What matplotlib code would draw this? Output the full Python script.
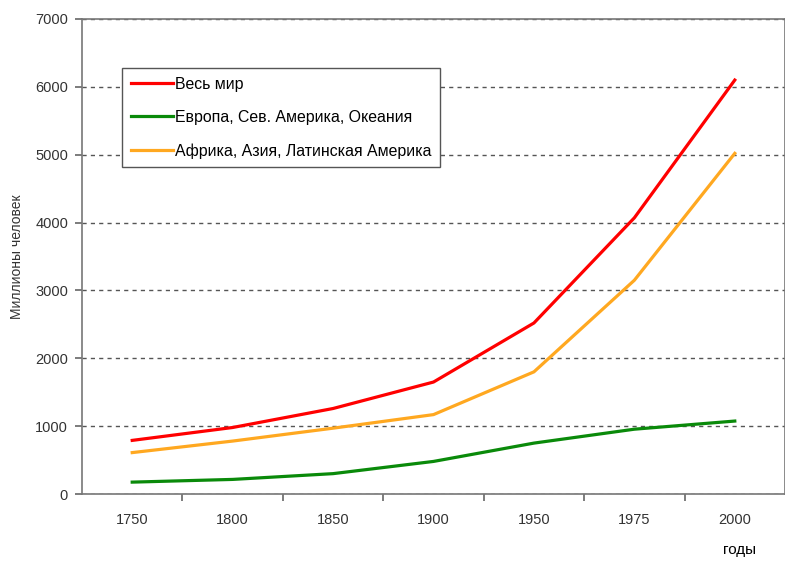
import numpy as np
import matplotlib.pyplot as plt
from matplotlib.ticker import FixedLocator

plt.rcParams['font.family'] = ['Liberation Sans', 'DejaVu Sans']

years = ['1750', '1800', '1850', '1900', '1950', '1975', '2000']
world = [790, 980, 1260, 1650, 2520, 4070, 6100]
developed = [175, 215, 300, 480, 750, 955, 1075]
developing = [610, 780, 970, 1170, 1800, 3150, 5020]
labels = ['Весь мир', 'Европа, Сев. Америка, Океания', 'Африка, Азия, Латинская Америка']

fig = plt.figure(figsize=(7.85, 5.61), dpi=100)
ax = fig.add_axes([82/785, 1 - 494/561, 703/785, 475/561])

x = np.arange(len(years))
ax.plot(x, world, color='#ff0000', lw=2.3, label=labels[0])
ax.plot(x, developed, color='#0a8a0a', lw=2.3, label=labels[1])
ax.plot(x, developing, color='#ffa820', lw=2.3, label=labels[2])

ax.set_xlim(-0.5, len(years) - 0.5)
ax.set_ylim(0, 7000)
ax.set_yticks(range(0, 7001, 1000))
ax.set_xticks(x)
ax.set_xticklabels(years)
ax.xaxis.set_minor_locator(FixedLocator(np.arange(0.5, len(years) - 0.5, 1)))
ax.tick_params(axis='x', which='major', length=0, pad=14, labelsize=10.5, labelcolor='#333333')
ax.tick_params(axis='x', which='minor', length=5, width=1.2, color='#666666', direction='out')
ax.tick_params(axis='y', length=5, width=1.2, color='#666666', labelsize=10.5, labelcolor='#333333', pad=5)

ax.yaxis.grid(True, linestyle=(0, (3, 3)), color='#555555', lw=1)
for s in ax.spines.values():
    s.set_color('#777777')
    s.set_linewidth(1.2)

ax.set_ylabel('Миллионы человек', fontsize=10, color='#333333', labelpad=8)
fig.text(740/785, 1 - 550/561, 'годы', fontsize=11, ha='center', va='center', color='black')

leg = ax.legend(loc='upper left', bbox_to_anchor=(40/703, (494-68)/475), fontsize=11.4,
                handlelength=2.7, handletextpad=0.1, borderaxespad=0, fancybox=False,
                framealpha=1, edgecolor='#555555', labelspacing=1.15, borderpad=0.55)
leg.get_frame().set_linewidth(1.0)

fig.savefig('out.png', dpi=100)
